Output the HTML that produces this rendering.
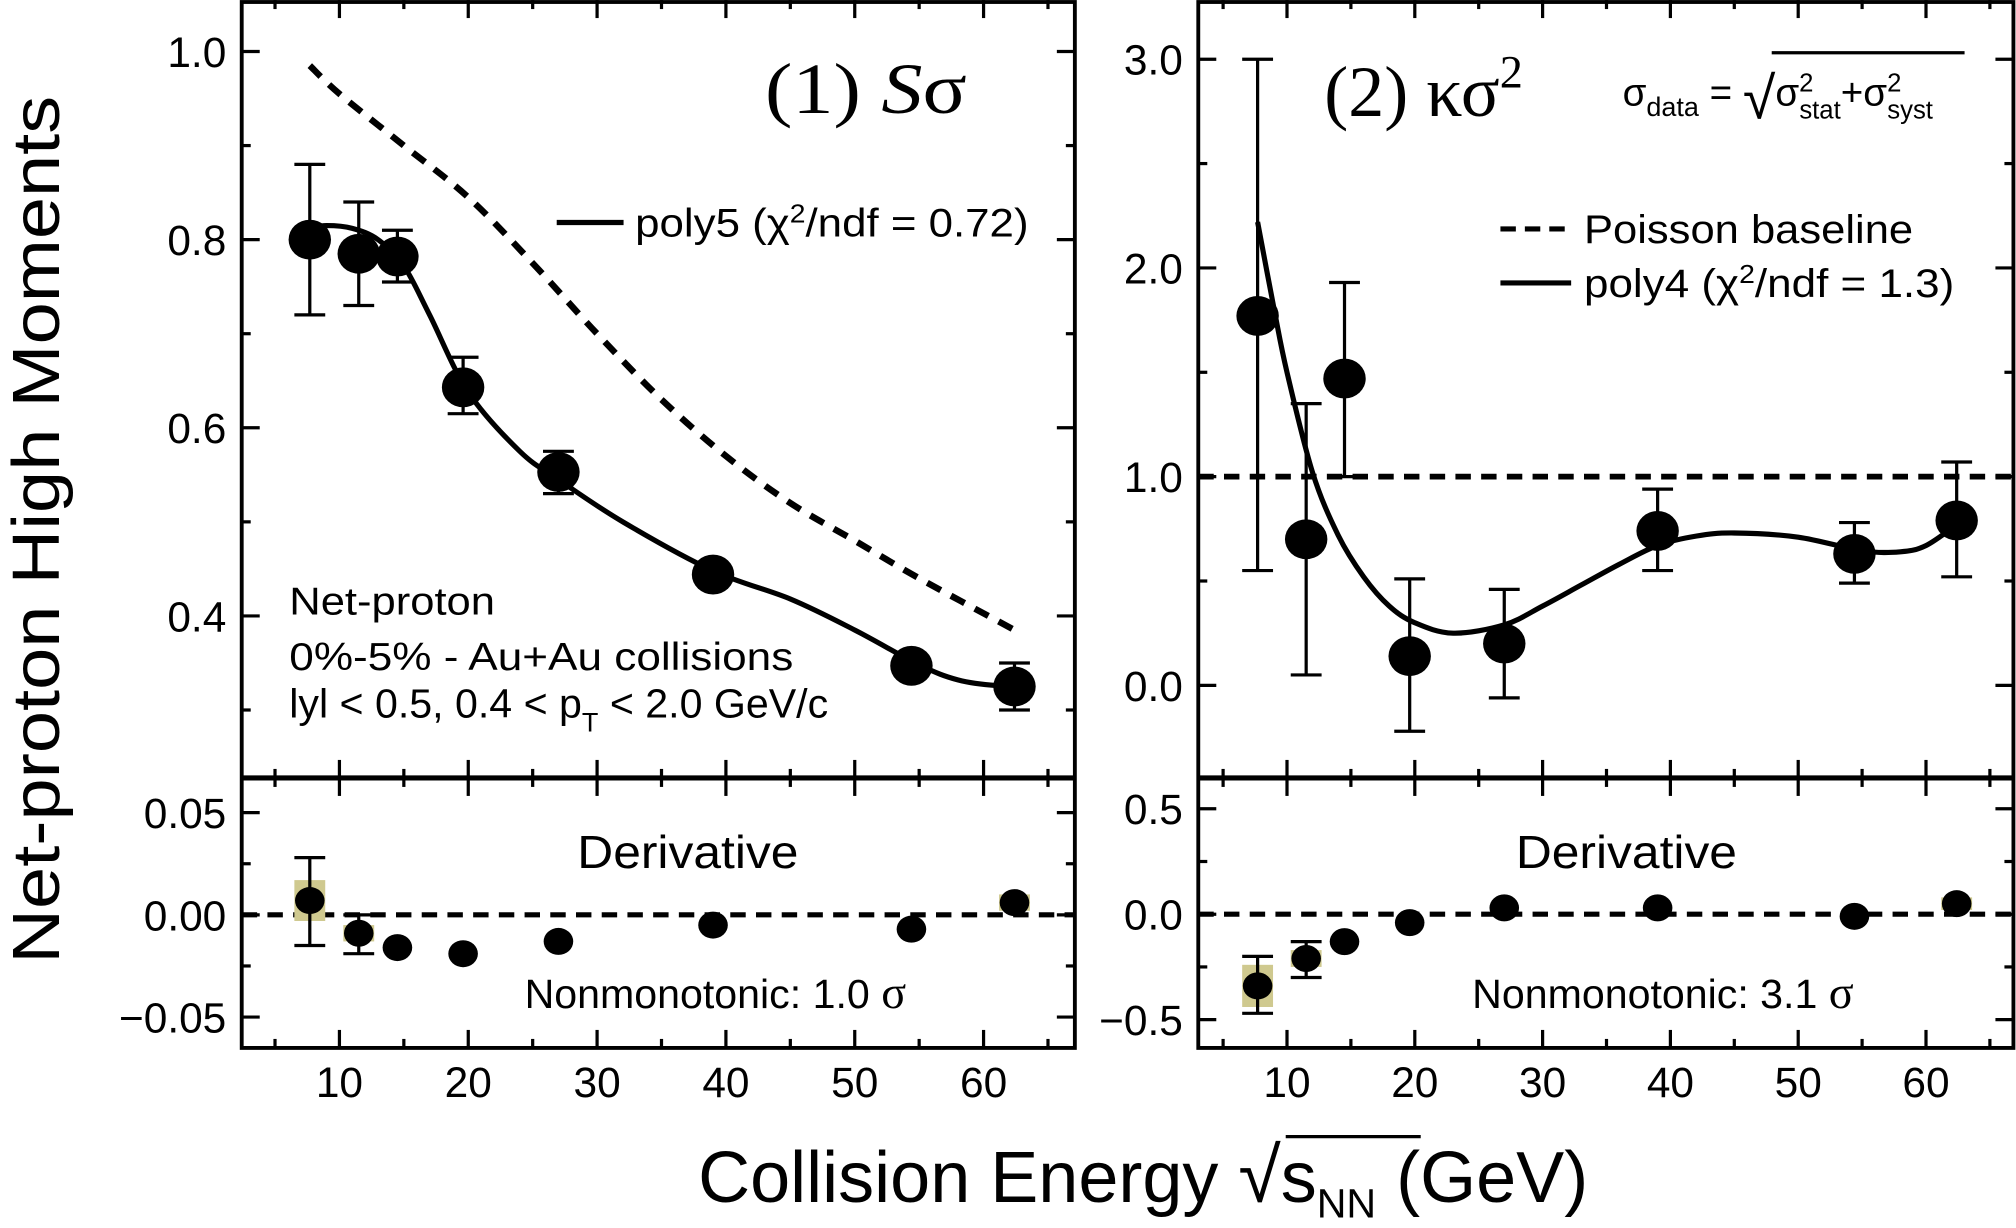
<!DOCTYPE html>
<html><head><meta charset="utf-8"><style>
html,body{margin:0;padding:0;background:#fff;}
svg{display:block;}
text{font-family:"Liberation Sans",sans-serif;fill:#000;}
</style></head><body>
<svg id="chart" width="2016" height="1228" viewBox="0 0 1568 955" xmlns="http://www.w3.org/2000/svg">
<g id="g"></g>
<text transform="translate(46,412) rotate(-90)" text-anchor="middle" font-size="52" textLength="675" lengthAdjust="spacingAndGlyphs">Net-proton High Moments</text>
<text x="543" y="935" font-size="56">Collision Energy <tspan font-size="60">√</tspan><tspan>s</tspan><tspan font-size="32" dy="12">NN</tspan><tspan dy="-12"> (GeV)</tspan></text>
<line x1="1000" y1="884" x2="1105" y2="884" stroke="#000" stroke-width="2.5"/>
<text x="595" y="88" font-size="56" style="font-family:'Liberation Serif',serif" textLength="157" lengthAdjust="spacingAndGlyphs">(1) <tspan font-style="italic">S</tspan>σ</text>
<text x="1030" y="90" font-size="56" style="font-family:'Liberation Serif',serif">(2) κσ<tspan font-size="36" dy="-22">2</tspan></text>
<text x="1262" y="82" font-size="30">σ<tspan font-size="21" dy="8">data</tspan><tspan dy="-8"> = </tspan><tspan font-size="46" dy="10">√</tspan><tspan dy="-10">σ</tspan><tspan font-size="20" dy="-11">2</tspan><tspan font-size="20" dx="-11" dy="21">stat</tspan><tspan dy="-10">+σ</tspan><tspan font-size="20" dy="-11">2</tspan><tspan font-size="20" dx="-11" dy="21">syst</tspan></text>
<line x1="1378" y1="41" x2="1528" y2="41" stroke="#000" stroke-width="2.5"/>
<line x1="433" y1="173" x2="485" y2="173" stroke="#000" stroke-width="4"/>
<text x="494" y="184" font-size="31" textLength="306" lengthAdjust="spacingAndGlyphs">poly5 (χ<tspan font-size="20" dy="-11">2</tspan><tspan dy="11">/ndf = 0.72)</tspan></text>
<line x1="1167" y1="178" x2="1222" y2="178" stroke="#000" stroke-width="4" stroke-dasharray="12,7"/>
<text x="1232" y="189" font-size="31" textLength="256" lengthAdjust="spacingAndGlyphs">Poisson baseline</text>
<line x1="1167" y1="220" x2="1222" y2="220" stroke="#000" stroke-width="4"/>
<text x="1232" y="231" font-size="31" textLength="288" lengthAdjust="spacingAndGlyphs">poly4 (χ<tspan font-size="20" dy="-11">2</tspan><tspan dy="11">/ndf = 1.3)</tspan></text>
<text x="225" y="478" font-size="30" textLength="160" lengthAdjust="spacingAndGlyphs">Net-proton</text>
<text x="225" y="521" font-size="30" textLength="392" lengthAdjust="spacingAndGlyphs">0%-5% - Au+Au collisions</text>
<text x="225" y="558" font-size="32">lyl &lt; 0.5, 0.4 &lt; p<tspan font-size="21" dy="11">T</tspan><tspan dy="-11"> &lt; 2.0 GeV/c</tspan></text>
<text x="535" y="675" text-anchor="middle" font-size="36" textLength="172" lengthAdjust="spacingAndGlyphs">Derivative</text>
<text x="1265" y="675" text-anchor="middle" font-size="36" textLength="172" lengthAdjust="spacingAndGlyphs">Derivative</text>
<text x="408" y="784" font-size="32">Nonmonotonic: 1.0 <tspan style="font-family:'Liberation Serif',serif" font-size="36">σ</tspan></text>
<text x="1145" y="784" font-size="32">Nonmonotonic: 3.1 <tspan style="font-family:'Liberation Serif',serif" font-size="36">σ</tspan></text>
</svg>
<script>
const energies=[7.7,11.5,14.5,19.6,27,39,54.4,62.4];
const sSigma=[0.80,0.785,0.782,0.643,0.553,0.444,0.347,0.325];
const sSigmaLo=[0.72,0.73,0.755,0.615,0.53,0.444,0.347,0.30];
const sSigmaHi=[0.88,0.84,0.81,0.675,0.575,0.444,0.347,0.35];
const poissonE=[7.7,10,15,20,25,30,35,40,45,50,55,62.4];
const poissonS=[0.985,0.955,0.90,0.845,0.775,0.70,0.63,0.57,0.52,0.48,0.44,0.385];
const fit5E=[7.7,9,11,13,15,17,20,24,27,32,39,45,50,55,58,61,62.4];
const fit5V=[0.812,0.815,0.812,0.80,0.772,0.72,0.638,0.575,0.545,0.50,0.448,0.418,0.385,0.348,0.332,0.326,0.328];
const dS=[0.007,-0.009,-0.016,-0.019,-0.013,-0.005,-0.007,0.006];
const dSLo=[-0.015,-0.019,-0.016,-0.019,-0.013,-0.005,-0.007,0.006];
const dSHi=[0.028,0,-0.016,-0.019,-0.013,-0.005,-0.007,0.006];
const dSSys=[0.01,0.004,0,0,0,0,0,0.004];
const kSigma=[1.77,0.70,1.47,0.14,0.20,0.74,0.63,0.79];
const kSigmaLo=[0.55,0.05,1.0,-0.22,-0.06,0.55,0.49,0.52];
const kSigmaHi=[3.0,1.35,1.93,0.51,0.46,0.94,0.78,1.07];
const fit4E=[7.7,9,10,12,14,16,18,20,23,27,30,33,36,39,42,45,50,55,58,60,62.4];
const fit4V=[2.22,1.8,1.5,1.02,0.72,0.52,0.38,0.3,0.25,0.29,0.38,0.48,0.58,0.67,0.715,0.73,0.71,0.645,0.64,0.67,0.77];
const dK=[-0.34,-0.21,-0.13,-0.04,0.03,0.03,-0.01,0.05];
const dKLo=[-0.47,-0.3,-0.13,-0.04,0.03,0.03,-0.01,0.05];
const dKHi=[-0.2,-0.13,-0.13,-0.04,0.03,0.03,-0.01,0.05];
const dKSys=[0.1,0.04,0,0,0,0,0,0.03];
const xTicks=[10,20,30,40,50,60];
const yTicks1=["0.4","0.6","0.8","1.0"];
const yTicks1b=["−0.05","0.00","0.05"];
const yTicks2=["0.0","1.0","2.0","3.0"];
const yTicks2b=["−0.5","0.0","0.5"];

const NS="http://www.w3.org/2000/svg";
const G=document.getElementById('g');
function mk(tag,attrs,parent){const e=document.createElementNS(NS,tag);for(const k in attrs)e.setAttribute(k,attrs[k]);(parent||G).appendChild(e);return e;}
function lin(d0,d1,r0,r1){return v=>r0+(v-d0)*(r1-r0)/(d1-d0);}
function smooth(pts){let d='M'+pts[0][0]+','+pts[0][1];for(let i=0;i<pts.length-1;i++){const p0=pts[Math.max(0,i-1)],p1=pts[i],p2=pts[i+1],p3=pts[Math.min(pts.length-1,i+2)];d+=' C'+(p1[0]+(p2[0]-p0[0])/6)+','+(p1[1]+(p2[1]-p0[1])/6)+' '+(p2[0]-(p3[0]-p1[0])/6)+','+(p2[1]-(p3[1]-p1[1])/6)+' '+p2[0]+','+p2[1];}return d;}

function panel(o){
  const x=lin(10,60,o.x10,o.x60);
  const yU=lin(o.uv0,o.uv1,o.uy0,o.uy1);
  const yL=lin(o.lv0,o.lv1,o.ly0,o.ly1);
  const L=o.left,R=o.right,T=0,M=605,B=815;
  for(let e=5;e<=65;e+=5){const len=e%10===0?14:7;const X=x(e);
    [[T,1],[M,-1],[M,1],[B,-1]].forEach(([yy,s])=>{const t=mk('line',{x1:X,y1:yy,x2:X,y2:yy+s*len,stroke:'#000','stroke-width':2.5});
      
      });}
  xTicks.forEach(v=>{const t=mk('text',{x:x(v),y:853,'text-anchor':'middle','font-size':33});t.textContent=v;
    
    });
  function yt(scale,vmin,vmax,step,yl0,yl1){for(let k=Math.ceil(vmin/step-1e-6);k*step<=vmax+1e-9;k++){const v=k*step;const Y=scale(v);if(Y<yl0+3||Y>yl1-3)continue;const major=Math.abs(Math.round(k)%2)===0;const len=major?14:7;
    [[L,1],[R,-1]].forEach(([xx,s])=>{const t=mk('line',{x1:xx,y1:Y,x2:xx+s*len,y2:Y,stroke:'#000','stroke-width':2.5});
      
      });}}
  yt(yU,o.uMin,o.uMax,o.uStep/2,T,M);
  yt(yL,o.lMin,o.lMax,o.lStep/2,M,B);
  o.uLabels.forEach(s=>{const v=parseFloat(s.replace('−','-'));const t=mk('text',{x:L-12,y:yU(v)+12,'text-anchor':'end','font-size':33});t.textContent=s;
    
    });
  o.lLabels.forEach(s=>{const v=parseFloat(s.replace('−','-'));const t=mk('text',{x:L-12,y:yL(v)+12,'text-anchor':'end','font-size':33});t.textContent=s;
    
    });
  const f=mk('rect',{x:L,y:T+1.5,width:R-L,height:B-T-1.5,fill:'none',stroke:'#000','stroke-width':3});
  
  
  const dv=mk('line',{x1:L,y1:M,x2:R,y2:M,stroke:'#000','stroke-width':4});
  
  
  const z=mk('line',{x1:L,y1:yL(0),x2:R,y2:yL(0),stroke:'#000','stroke-width':4,'stroke-dasharray':'12,8'});
  
  
  if(o.dashE){const d=mk('path',{d:smooth(o.dashE.map((e,i)=>[x(e),yU(o.dashV[i])])),fill:'none',stroke:'#000','stroke-width':5,'stroke-dasharray':'12,9'});
    
    }
  else{const d=mk('line',{x1:L,y1:yU(1),x2:R,y2:yU(1),stroke:'#000','stroke-width':4.5,'stroke-dasharray':'12,8'});
    
    }
  const fp=mk('path',{d:smooth(o.fitE.map((e,i)=>[x(e),yU(o.fitV[i])])),fill:'none',stroke:'#000','stroke-width':4});
  
  
  function errbar(X,y1,y2,cap,name){const g=mk('g',{});
    
    
    mk('line',{x1:X,y1:y1,x2:X,y2:y2,stroke:'#000','stroke-width':2.5},g);
    mk('line',{x1:X-cap,y1:y1,x2:X+cap,y2:y1,stroke:'#000','stroke-width':2.5},g);
    mk('line',{x1:X-cap,y1:y2,x2:X+cap,y2:y2,stroke:'#000','stroke-width':2.5},g);}
  energies.forEach((e,i)=>{const X=x(e);
    if(o.uHi[i]-o.uLo[i]>1e-6)errbar(X,yU(o.uHi[i]),yU(o.uLo[i]),12,'error-bar');
    const c=mk('ellipse',{cx:X,cy:yU(o.uV[i]),rx:16.5,ry:15.5,fill:'#000'});
    
    
    if(o.lSys[i]>0){const r=mk('rect',{x:X-12,y:yL(o.lV[i]+o.lSys[i]),width:24,height:yL(o.lV[i]-o.lSys[i])-yL(o.lV[i]+o.lSys[i]),fill:'#cfc98f'});
      
      }
    if(o.lHi[i]-o.lLo[i]>1e-6)errbar(X,yL(o.lHi[i]),yL(o.lLo[i]),12,'derivative-error-bar');
    const d=mk('ellipse',{cx:X,cy:yL(o.lV[i]),rx:11.5,ry:10.5,fill:'#000'});
    
    
  });
}
panel({left:188,right:836,x10:264,x60:765,uv0:1.0,uv1:0.4,uy0:40,uy1:479,lv0:0.05,lv1:-0.05,ly0:632,ly1:791,
  uMin:0.2,uMax:1.06,uStep:0.2,lMin:-0.07,lMax:0.07,lStep:0.05,uLabels:yTicks1,lLabels:yTicks1b,
  dashE:poissonE,dashV:poissonS,fitE:fit5E,fitV:fit5V,uV:sSigma,uLo:sSigmaLo,uHi:sSigmaHi,lV:dS,lLo:dSLo,lHi:dSHi,lSys:dSSys});
panel({left:932,right:1566,x10:1001,x60:1498,uv0:3.0,uv1:0.0,uy0:46,uy1:533,lv0:0.5,lv1:-0.5,ly0:629,ly1:793,
  uMin:-0.5,uMax:3.3,uStep:1.0,lMin:-0.7,lMax:0.7,lStep:0.5,uLabels:yTicks2,lLabels:yTicks2b,
  dashE:null,fitE:fit4E,fitV:fit4V,uV:kSigma,uLo:kSigmaLo,uHi:kSigmaHi,lV:dK,lLo:dKLo,lHi:dKHi,lSys:dKSys});
</script>
</body></html>
